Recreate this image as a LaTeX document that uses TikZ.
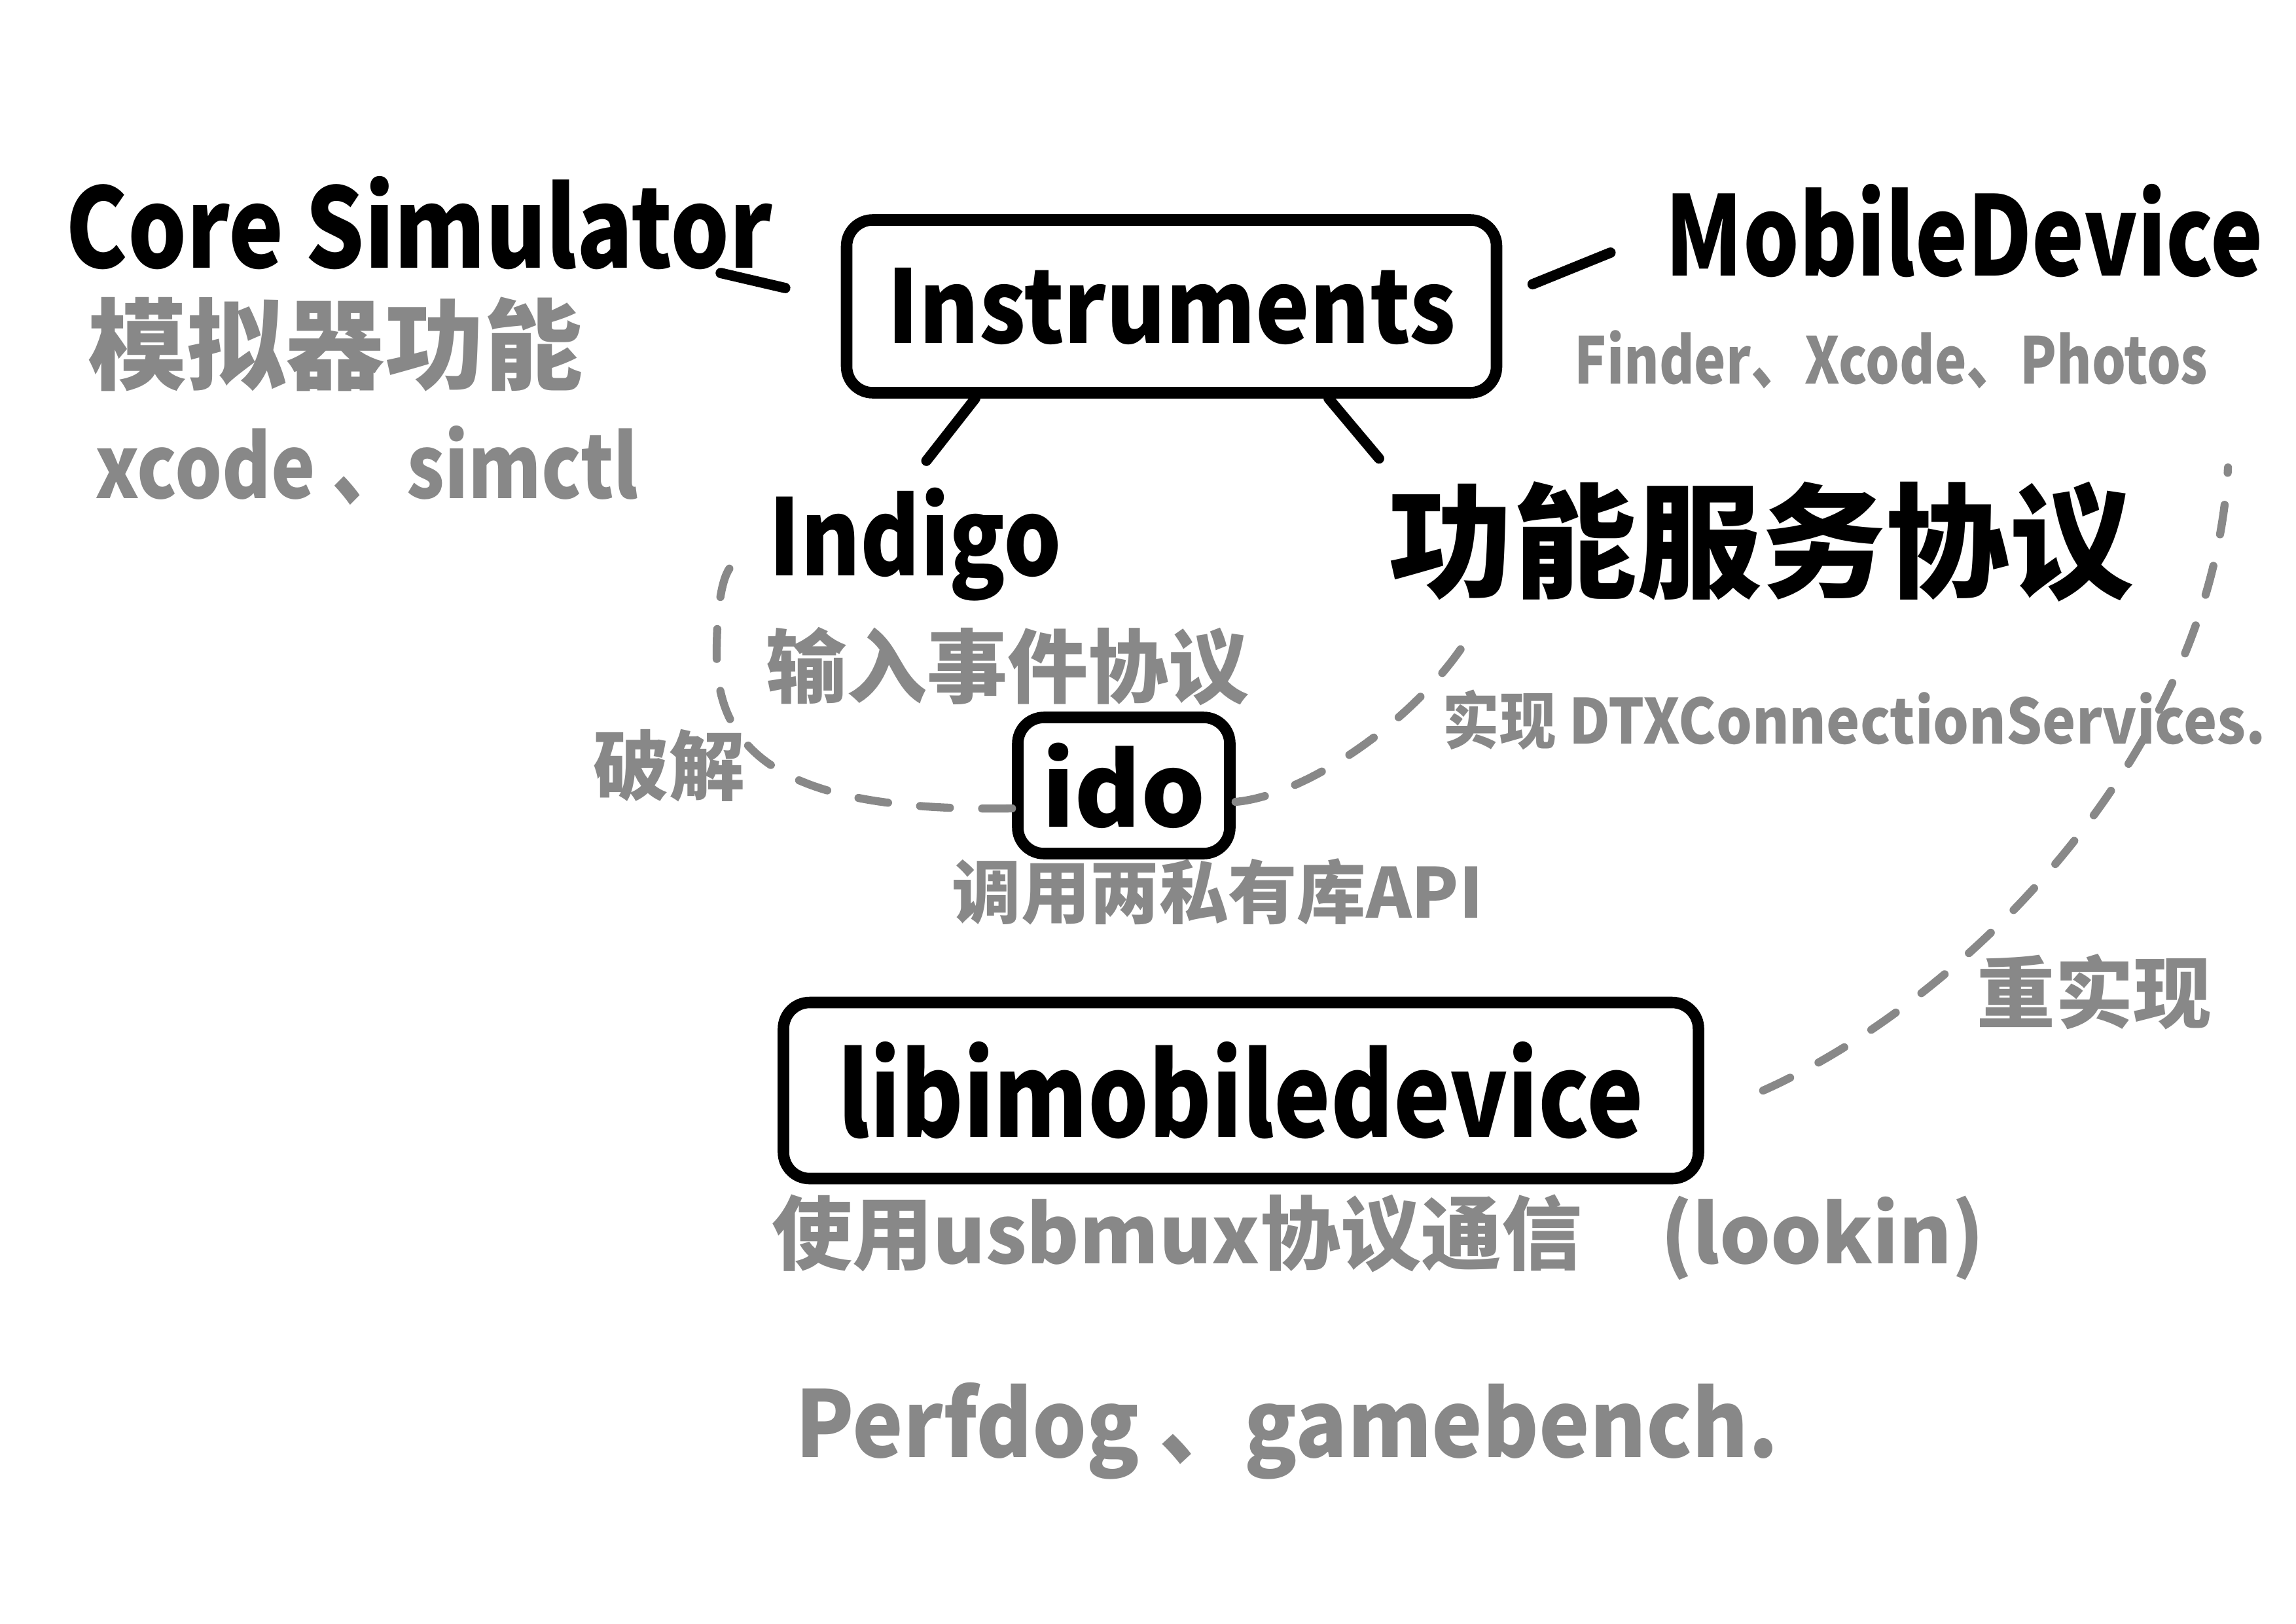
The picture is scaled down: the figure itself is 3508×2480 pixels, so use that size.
\documentclass[tikz,border=0pt]{standalone}
\usepackage{fontspec}
\setmainfont{Noto Sans CJK SC}
\usepackage{tikz}
\usetikzlibrary{calc}
\definecolor{pencil}{HTML}{888888}

\begin{document}
\begin{tikzpicture}[x=0.1mm,y=-0.1mm,
    ink/.style={text=black,font=\bfseries\fontsize{#1}{#1}\selectfont,inner sep=0pt},
    note/.style={text=pencil,font=\bfseries\fontsize{#1}{#1}\selectfont,inner sep=0pt},
    sketchbox/.style={draw,line width=5pt,rounded corners=4mm,inner sep=0pt},
    leg/.style={line width=4.5pt,line cap=round},
    dashlink/.style={draw=pencil,line width=3.5pt,line cap=round,dash pattern=on 13pt off 14pt}]
    \useasboundingbox (0,0) rectangle (3508,2480);
    % top row
    \node[ink=48pt,anchor=base west] (cs) at (100,409) {\scalebox{0.84}[1]{Core Simulator}};
    \node[note=43pt,anchor=west] (sim) at (134,526) {模拟器功能};
    \node[note=38pt,anchor=base west] (xs) at (145,761) {\scalebox{0.85}[1]{xcode 、simctl}};
    \node[sketchbox,ink=44pt,minimum width=99.3mm,minimum height=26.4mm] (inst) at (1790,468) {\scalebox{0.9}[1]{Instruments}};
    \node[ink=48pt,anchor=base west] (md) at (2544,421) {\scalebox{0.8}[1]{MobileDevice}};
    \node[note=28pt,anchor=base west] (fxp) at (2405,586) {\scalebox{0.83}[1]{Finder、Xcode、Photos}};
    % middle row
    \node[ink=46pt,anchor=base west] (indigo) at (1174,879) {\scalebox{0.86}[1]{Indigo}};
    \node[ink=54pt,anchor=west] (svc) at (2121,828) {功能服务协议};
    \node[note=35pt,anchor=west] (evt) at (1170,1018) {输入事件协议};
    \node[note=33pt,anchor=west] (crack) at (906,1170) {破解};
    \node[sketchbox,ink=44pt,minimum width=32.4mm,minimum height=20.8mm] (ido) at (1717,1200) {ido};
    \node[note=30pt,anchor=west] (api) at (1454,1362) {调用两私有库API};
    \node[note=27pt,anchor=west] (dtx) at (2204,1100) {\scalebox{0.91}[1]{实现 DTXConnectionServices.}};
    \node[note=34pt,anchor=west] (redo) at (3020,1515) {重实现};
    % bottom
    \node[sketchbox,ink=50pt,minimum width=139.8mm,minimum height=26.9mm] (libi) at (1896,1666) {\scalebox{0.83}[1]{libimobiledevice}};
    \node[note=35pt,anchor=west] (usb) at (1179,1890) {使用usbmux协议通信\hspace{12mm}(lookin)};
    \node[note=40pt,anchor=base west] (perf) at (1215,2226) {\scalebox{0.93}[1]{Perfdog 、gamebench.}};
    % links
    \draw[leg] ([xshift=-8mm,yshift=-0.5mm]cs.south east) -- ([xshift=-8.5mm,yshift=2.8mm]inst.west);
    \draw[leg,shorten <=5mm,shorten >=9mm] ([yshift=1.5mm]inst.east) -- (md.west);
    \draw[leg] ([xshift=-30mm]inst.south) -- ([xshift=1.7mm,yshift=4mm]indigo.north);
    \draw[leg] ([xshift=24mm]inst.south) -- ([xshift=-1.4mm,yshift=3.5mm]svc.north west);
    \draw[dashlink] ([yshift=-3.5mm]ido.west) .. controls (1230,1240) and (1095,1170) .. (1095,1000)
        .. controls (1095,900) and (1110,860) .. ([xshift=-4.6mm,yshift=-2.8mm]indigo.west);
    \draw[dashlink] ([yshift=-2.5mm]ido.east) .. controls (2000,1215) and (2180,1090) .. ([xshift=13.4mm,yshift=-3.4mm]svc.south west);
    \draw[dashlink] ([xshift=9mm]libi.east) .. controls (3000,1530) and (3380,1150) .. ([xshift=3mm,yshift=-12mm]fxp.south east);
\end{tikzpicture}
\end{document}
